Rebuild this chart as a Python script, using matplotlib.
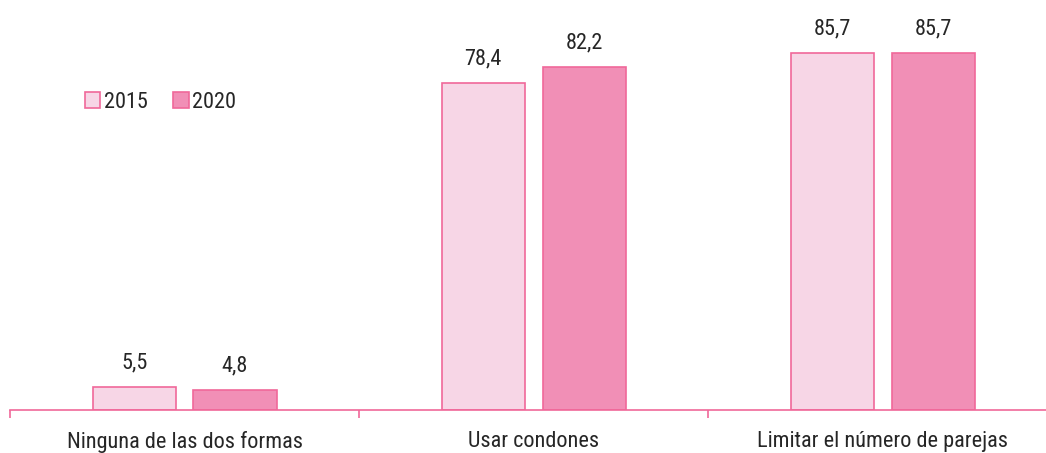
import matplotlib
matplotlib.use("Agg")
import matplotlib.pyplot as plt
from matplotlib import font_manager
import numpy as np

categories = ["Ninguna de las dos formas", "Usar condones", "Limitar el número de parejas"]
series_names = ["2015", "2020"]
values_2015 = [5.5, 78.4, 85.7]
values_2020 = [4.8, 82.2, 85.7]

fill_colors = ["#F7D6E6", "#F18FB6"]
edge_color = "#F0689A"
text_color = "#262626"

installed = {f.name for f in font_manager.fontManager.ttflist}
family = [f for f in ["Roboto Condensed", "Archivo Narrow", "Liberation Sans", "DejaVu Sans"] if f in installed]
plt.rcParams["font.family"] = family

fs = 16

fig = plt.figure(figsize=(10.46, 4.53), dpi=100)
ax = fig.add_axes([10 / 1046, 43 / 453, 1047.5 / 1046, 410 / 453])

x = np.arange(len(categories))
width = 0.238
offset = 0.1445

for vals, name, color, sign in [(values_2015, series_names[0], fill_colors[0], -1),
                                (values_2020, series_names[1], fill_colors[1], 1)]:
    bars = ax.bar(x + sign * offset, vals, width, color=color, edgecolor=edge_color,
                  linewidth=1.2, label=name, zorder=2)
    for b, v in zip(bars, vals):
        ax.annotate(f"{v:.1f}".replace(".", ","), (b.get_x() + b.get_width() / 2, v),
                    xytext=(0, 10), textcoords="offset points", ha="center", va="bottom",
                    fontsize=fs, color=text_color)

ax.set_xlim(-0.5, len(categories) - 0.5)
ax.set_ylim(0, 98.4)

for s in ["top", "right", "left"]:
    ax.spines[s].set_visible(False)
ax.spines["bottom"].set_color(edge_color)
ax.spines["bottom"].set_linewidth(1.2)
ax.set_yticks([])

ax.set_xticks(x)
ax.set_xticklabels(categories, fontsize=fs, color=text_color)
ax.tick_params(axis="x", which="major", length=0, pad=15)
ax.set_xticks(np.arange(len(categories) + 1) - 0.5, minor=True)
ax.tick_params(axis="x", which="minor", length=6, width=1.2, color=edge_color, direction="out")

leg = ax.legend(loc="upper left", bbox_to_anchor=(66 / 1047.5, 1 - 83 / 410), ncol=2,
                frameon=False, fontsize=fs, handlelength=0.7, handleheight=0.7,
                handletextpad=0.15, columnspacing=1.15, borderaxespad=0)
for t in leg.get_texts():
    t.set_color(text_color)

fig.savefig("out.png", dpi=100)
